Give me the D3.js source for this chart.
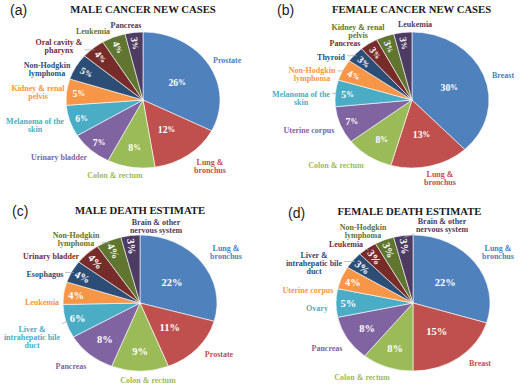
<!DOCTYPE html>
<html><head><meta charset="utf-8">
<script src="https://cdn.jsdelivr.net/npm/d3@7"></script>
<style>
html,body{margin:0;padding:0;background:#fff;}
svg{display:block;}
</style>
</head><body>
<svg id="chart" width="520" height="391"></svg>
<script>
// ---------- DATA ----------
const panelTags = ["(a)", "(b)", "(c)", "(d)"];
const titles = ["MALE CANCER NEW CASES", "FEMALE CANCER NEW CASES", "MALE DEATH ESTIMATE", "FEMALE DEATH ESTIMATE"];

const maleNewCats = ["Prostate", "Lung &\nbronchus", "Colon & rectum", "Urinary bladder", "Melanoma of the\nskin",
  "Kidney & renal\npelvis", "Non-Hodgkin\nlymphoma", "Oral cavity &\npharynx", "Leukemia", "Pancreas"];
const maleNewVals = [26, 12, 8, 7, 6, 5, 5, 4, 4, 3];

const femaleNewCats = ["Breast", "Lung &\nbronchus", "Colon & rectum", "Uterine corpus", "Melanoma of the\nskin",
  "Non-Hodgkin\nlymphoma", "Thyroid", "Pancreas", "Kidney & renal\npelvis", "Leukemia"];
const femaleNewVals = [30, 13, 8, 7, 5, 4, 3, 3, 3, 3];

const maleDeathCats = ["Lung &\nbronchus", "Prostate", "Colon & rectum", "Pancreas", "Liver &\nintrahepatic bile\nduct",
  "Leukemia", "Esophagus", "Urinary bladder", "Non-Hodgkin\nlymphoma", "Brain & other\nnervous system"];
const maleDeathVals = [22, 11, 9, 8, 6, 4, 4, 4, 4, 3];

const femaleDeathCats = ["Lung &\nbronchus", "Breast", "Colon & rectum", "Pancreas", "Ovary", "Uterine corpus",
  "Liver &\nintrahepatic bile\nduct", "Leukemia", "Non-Hodgkin\nlymphoma", "Brain & other\nnervous system"];
const femaleDeathVals = [22, 15, 8, 8, 5, 4, 3, 3, 3, 3];

// ---------- LAYOUT / STYLE ----------
const palette = ["#4F81BD", "#C0504D", "#9BBB59", "#8064A2", "#4BACC6", "#F79646", "#2C4D75", "#772C2A", "#5F7530", "#4D3B62"];

// label offsets relative to pie centre: [dx, dy(first line centre), anchor, leader]
const labelLayouts = [
  [[70,-40,"start",0],[67,62,"middle",0],[-28,75,"middle",0],[-84,57,"middle",0],[-108,21,"middle",0],
   [-105,-12,"middle",0],[-96,-35,"middle",0],[-84,-58,"middle",1],[-50,-69,"middle",0],[-17,-75,"middle",0]],
  [[80,-25,"start",0],[28,74,"middle",0],[-76,65,"middle",0],[-103,30,"middle",0],[-111,-6,"middle",1],
   [-100,-30,"middle",1],[-81,-43,"middle",1],[-67,-57,"middle",0],[-54,-73,"middle",0],[3,-76,"middle",0]],
  [[86,-55,"middle",0],[79,51,"middle",0],[8,77,"middle",0],[-69,63,"middle",0],[-108,26,"middle",1],
   [-98,-1,"middle",0],[-95,-29,"middle",1],[-89,-47,"middle",0],[-64,-68,"middle",1],[16,-81,"middle",0]],
  [[85,-55,"middle",0],[67,60,"middle",0],[-51,74,"middle",0],[-86,45,"middle",0],[-96,5,"middle",0],
   [-105,-13,"middle",0],[-99,-48,"middle",1],[-67,-59,"middle",1],[-50,-76,"middle",0],[29,-82,"middle",1]]
];

const panels = [
  {cats: maleNewCats, vals: maleNewVals, cx: 143, cy: 100, tagX: 10, tagY: 10, titleX: 143, titleY: 9, pctSize: 9.8, pctSign: 0.78},
  {cats: femaleNewCats, vals: femaleNewVals, cx: 412, cy: 100, tagX: 277, tagY: 10, titleX: 411.5, titleY: 9, pctSize: 9.8, pctSign: 0.78},
  {cats: maleDeathCats, vals: maleDeathVals, cx: 140, cy: 303, tagX: 12, tagY: 211, titleX: 140, titleY: 210, pctSize: 10.5, pctSign: 1},
  {cats: femaleDeathCats, vals: femaleDeathVals, cx: 413, cy: 303, tagX: 288, tagY: 213, titleX: 409.5, titleY: 210.5, pctSize: 10.5, pctSign: 1}
];
const RX = 77, RY = 68;
const serif = "'Liberation Serif','Times New Roman',serif";

const svg = d3.select("#chart");
const color = d3.scaleOrdinal().domain(d3.range(10)).range(palette);

panels.forEach((p, pi) => {
  const g = svg.append("g");
  // tag
  g.append("text").attr("x", p.tagX).attr("y", p.tagY).attr("dominant-baseline", "central")
    .attr("font-family", "'Liberation Sans',Arial,sans-serif").attr("font-size", 14).attr("fill", "#222")
    .text(panelTags[pi]);
  // title
  g.append("text").attr("x", p.titleX).attr("y", p.titleY).attr("dominant-baseline", "central")
    .attr("text-anchor", "middle").attr("font-family", serif).attr("font-weight", "bold")
    .attr("font-size", 10.7).attr("fill", "#1a1a1a").text(titles[pi]);

  const data = p.vals.map((v, i) => ({v, i, cat: p.cats[i]}));
  const pie = d3.pie().value(d => d.v).sort(null);
  const arcs = pie(data);
  const arc = d3.arc().innerRadius(0).outerRadius(RX);

  const pg = g.append("g").attr("transform", `translate(${p.cx},${p.cy}) scale(1,${RY / RX})`);
  pg.selectAll("path").data(arcs).join("path")
    .attr("d", arc).attr("fill", d => color(d.data.i))
    .attr("stroke", "#fff").attr("stroke-width", 0.6).attr("vector-effect", "non-scaling-stroke");

  const ell = (ang, r) => [p.cx + Math.sin(ang) * RX * r, p.cy - Math.cos(ang) * RY * r];

  // percentage labels
  arcs.forEach(d => {
    const mid = (d.startAngle + d.endAngle) / 2;
    const v = d.data.v;
    const rf = v >= 11 ? 0.52 : (v >= 8 ? 0.7 : 0.84);
    const [x, y] = ell(mid, rf);
    const deg = mid * 180 / Math.PI;
    const rot = deg > 294 ? deg - 270 : 0;
    const t = g.append("text").attr("transform", `translate(${x},${y}) rotate(${rot})`)
      .attr("text-anchor", "middle").attr("dominant-baseline", "central")
      .attr("font-family", serif).attr("font-weight", "bold").attr("font-size", p.pctSize)
      .attr("fill", "#fff");
    t.append("tspan").text(v);
    t.append("tspan").attr("font-size", p.pctSize * p.pctSign).text("%");
  });

  // category labels
  arcs.forEach((d, k) => {
    const L = labelLayouts[pi][k];
    const lines = d.data.cat.split("\n");
    const t = g.append("text").attr("text-anchor", L[2])
      .attr("font-family", serif).attr("font-weight", "bold").attr("font-size", 8)
      .attr("fill", color(d.data.i));
    lines.forEach((ln, li) => {
      t.append("tspan").attr("x", p.cx + L[0]).attr("y", p.cy + L[1] + li * 8.2)
        .attr("dominant-baseline", "central").text(ln);
    });
    if (L[3]) {
      const mid = (d.startAngle + d.endAngle) / 2;
      const [ax, ay] = ell(mid, 0.97);
      const b = t.node().getBBox();
      const bx = Math.max(b.x, Math.min(ax, b.x + b.width));
      const by = Math.max(b.y, Math.min(ay, b.y + b.height));
      const ang = Math.atan2(ay - by, ax - bx);
      g.append("line").attr("x1", bx + Math.cos(ang) * 1.5).attr("y1", by + Math.sin(ang) * 1.5)
        .attr("x2", ax).attr("y2", ay).attr("stroke", "#a6a6a6").attr("stroke-width", 0.7);
    }
  });
});
</script>
</body></html>
